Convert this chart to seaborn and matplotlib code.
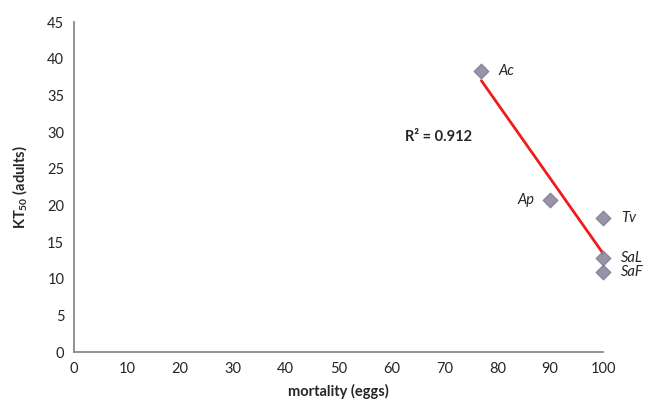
import matplotlib
matplotlib.use("Agg")
import matplotlib.pyplot as plt
import seaborn as sns
import numpy as np
import pandas as pd

# Data
species = ["Ac", "Ap", "Tv", "SaL", "SaF"]
mortality_eggs = [77, 90, 100, 100, 100]
kt50_adults = [38.3, 20.7, 18.3, 12.8, 10.9]
x_ticks = [0, 10, 20, 30, 40, 50, 60, 70, 80, 90, 100]
y_ticks = [0, 5, 10, 15, 20, 25, 30, 35, 40, 45]
r2_label = "R² = 0.912"

df = pd.DataFrame({"species": species, "mortality": mortality_eggs, "kt50": kt50_adults})

sns.set_style("white")
plt.rcParams['font.family'] = ['Lato', 'DejaVu Sans']
plt.rcParams['mathtext.fontset'] = 'custom'
plt.rcParams['mathtext.rm'] = 'Lato'
plt.rcParams['mathtext.bf'] = 'Lato:bold'
plt.rcParams['mathtext.it'] = 'Lato:italic'

fig = plt.figure(figsize=(6.45, 4.0), dpi=100)
ax = fig.add_axes([0.1147, 0.12, 0.8203, 0.825])

sns.regplot(data=df, x="mortality", y="kt50", ax=ax, ci=None, truncate=True,
            marker="D",
            scatter_kws=dict(s=55, color="#7f7993", edgecolor="#7f7993", zorder=3, clip_on=False),
            line_kws=dict(color="#ee1c1c", lw=2, zorder=2))

ax.set_xlim(0, 100)
ax.set_ylim(0, 45)
ax.set_xticks(x_ticks)
ax.set_yticks(y_ticks)
ax.tick_params(axis="both", direction="out", length=4, width=1, color="#898989",
               labelsize=10.5, pad=3)
for s in ["top", "right"]:
    ax.spines[s].set_visible(False)
for s in ["left", "bottom"]:
    ax.spines[s].set_color("#898989")
    ax.spines[s].set_linewidth(1.3)
    ax.spines[s].set_zorder(0)

ax.set_xlabel("mortality (eggs)", fontsize=10.5, fontweight="bold", labelpad=6)
ax.set_ylabel(r"KT$_{\mathbf{50}}$ (adults)", fontsize=10.5, fontweight="bold", labelpad=13)

offsets = {"Ac": (12, 0, "left"), "Ap": (-11, 0, "right"), "Tv": (13, 0, "left"),
           "SaL": (13, 0, "left"), "SaF": (13, 0, "left")}
for sp, xv, yv in zip(species, mortality_eggs, kt50_adults):
    dx, dy, ha = offsets[sp]
    ax.annotate(sp, (xv, yv), xytext=(dx, dy), textcoords="offset points",
                ha=ha, va="center", fontsize=10.5, fontstyle="italic",
                annotation_clip=False)

ax.text(62.6, 29.3, r2_label, fontsize=10.5, fontweight="bold", ha="left", va="center")

fig.savefig("out.png", dpi=100)
